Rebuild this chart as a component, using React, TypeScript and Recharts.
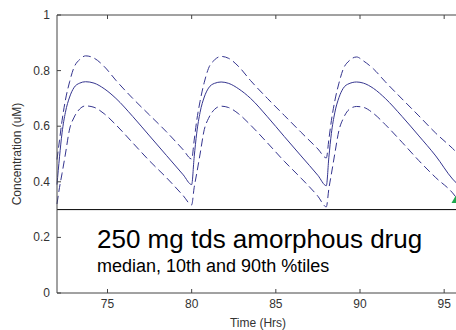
import React from "react";
import {
  ComposedChart,
  Line,
  XAxis,
  YAxis,
  ReferenceLine,
  ReferenceDot,
} from "recharts";

// time after start (hrs), dosing every 8 h (tds)
const hours = [
  72, 72.15, 72.3, 72.5, 72.75, 73, 73.35, 73.7, 74.2, 74.8, 75.5, 76.5, 77.5, 78.5, 79.5,
  80, 80.15, 80.3, 80.5, 80.75, 81, 81.35, 81.75, 82.2, 82.8, 83.5, 84.5, 85.5, 86.5, 87.5,
  88, 88.15, 88.3, 88.5, 88.75, 89, 89.35, 89.8, 90.2, 90.8, 91.5, 92.5, 93.5, 94.5, 95.5,
  96,
];

const median = [
  0.39, 0.49, 0.576, 0.65, 0.705, 0.738, 0.755, 0.76, 0.755, 0.735, 0.7, 0.635, 0.565, 0.495, 0.425,
  0.39, 0.49, 0.575, 0.65, 0.705, 0.737, 0.754, 0.759, 0.754, 0.734, 0.7, 0.634, 0.563, 0.493, 0.423,
  0.386, 0.488, 0.574, 0.648, 0.703, 0.736, 0.753, 0.759, 0.755, 0.736, 0.7, 0.635, 0.565, 0.493, 0.41,
  0.38,
];

const p90 = [
  0.48, 0.55, 0.62, 0.694, 0.76, 0.81, 0.84, 0.853, 0.845, 0.815, 0.765, 0.7, 0.64, 0.58, 0.515,
  0.482, 0.55, 0.62, 0.69, 0.758, 0.808, 0.838, 0.851, 0.844, 0.814, 0.764, 0.7, 0.639, 0.578, 0.518,
  0.486, 0.552, 0.62, 0.69, 0.755, 0.805, 0.835, 0.849, 0.835, 0.806, 0.76, 0.698, 0.637, 0.575, 0.52,
  0.49,
];

const p10 = [
  0.32, 0.38, 0.43, 0.5, 0.59, 0.63, 0.662, 0.673, 0.668, 0.645, 0.605, 0.54, 0.475, 0.415, 0.35,
  0.317, 0.38, 0.43, 0.5, 0.588, 0.628, 0.66, 0.672, 0.667, 0.644, 0.604, 0.54, 0.474, 0.413, 0.348,
  0.31, 0.375, 0.428, 0.5, 0.585, 0.627, 0.66, 0.671, 0.668, 0.646, 0.606, 0.542, 0.476, 0.415, 0.36,
  0.32,
];

const xTicks = [75, 80, 85, 90, 95];
const yTicks = [0, 0.2, 0.4, 0.6, 0.8, 1];
const threshold = 0.3;
const markerT = 95.85;
const markerV = 0.338;

const title = "250 mg tds amorphous drug";
const subtitle = "median, 10th and 90th %tiles";

const rows = hours.map((t, i) => ({
  t,
  p10: p10[i],
  median: median[i],
  p90: p90[i],
}));

const FONT = '"Liberation Sans", Arial, sans-serif';
const AXIS = "#444";
const LINE = "#35358f";

function XTick(props: any) {
  const { x, y, payload } = props;
  return (
    <g>
      <line x1={x} x2={x} y1={y} y2={y - 4} stroke={AXIS} />
      <text x={x} y={y + 15} textAnchor="middle" fontSize={12} fill="#333" fontFamily={FONT}>
        {payload.value}
      </text>
    </g>
  );
}

// inward tick marks on the top frame, no labels
function TopTick(props: any) {
  const { x, y } = props;
  return <line x1={x} x2={x} y1={y} y2={y + 4} stroke={AXIS} />;
}

function YTick(props: any) {
  const { x, y, payload } = props;
  return (
    <g>
      <line x1={x} x2={x + 4} y1={y} y2={y} stroke={AXIS} />
      <text x={x - 7} y={y + 4} textAnchor="end" fontSize={12} fill="#333" fontFamily={FONT}>
        {payload.value}
      </text>
    </g>
  );
}

function Marker(props: any) {
  const { cx, cy } = props;
  return (
    <polygon
      points={`${cx},${cy - 8} ${cx - 7},${cy + 4} ${cx + 7},${cy + 4}`}
      fill="#1fa84f"
    />
  );
}

export default function App() {
  return (
    <div
      style={{
        position: "absolute",
        left: 0,
        top: 0,
        width: 456,
        height: 330,
        overflow: "hidden",
        background: "#fff",
      }}
    >
      <ComposedChart
        width={461}
        height={330}
        data={rows}
        margin={{ top: 0, right: 0, bottom: 0, left: 0 }}
      >
        <XAxis
          dataKey="t"
          type="number"
          domain={[72, 96]}
          ticks={xTicks}
          height={37}
          tickSize={0}
          tickMargin={0}
          tickLine={false}
          tick={<XTick />}
          axisLine={{ stroke: AXIS }}
        />
        <XAxis
          xAxisId="top"
          dataKey="t"
          type="number"
          orientation="top"
          domain={[72, 96]}
          ticks={xTicks}
          height={15}
          tickSize={0}
          tickMargin={0}
          tickLine={false}
          tick={<TopTick />}
          axisLine={{ stroke: AXIS }}
        />
        <YAxis
          type="number"
          domain={[0, 1]}
          ticks={yTicks}
          width={57}
          tickSize={0}
          tickMargin={0}
          tickLine={false}
          tick={<YTick />}
          axisLine={{ stroke: AXIS }}
        />
        <ReferenceLine y={threshold} stroke="#000" strokeWidth={1} />
        <Line
          dataKey="p90"
          type="monotone"
          stroke={LINE}
          strokeWidth={1}
          strokeDasharray="8 4"
          dot={false}
          isAnimationActive={false}
        />
        <Line
          dataKey="median"
          type="monotone"
          stroke={LINE}
          strokeWidth={1}
          dot={false}
          isAnimationActive={false}
        />
        <Line
          dataKey="p10"
          type="monotone"
          stroke={LINE}
          strokeWidth={1}
          strokeDasharray="8 4"
          dot={false}
          isAnimationActive={false}
        />
        <ReferenceDot x={markerT} y={markerV} shape={<Marker />} />
      </ComposedChart>
      <svg
        width={456}
        height={330}
        style={{ position: "absolute", left: 0, top: 0, pointerEvents: "none" }}
      >
        <text x={97} y={248} fontSize={26} fill="#000" fontFamily={FONT}>
          {title}
        </text>
        <text x={97} y={272} fontSize={18} fill="#000" fontFamily={FONT}>
          {subtitle}
        </text>
        <text x={258} y={327} textAnchor="middle" fontSize={12} fill="#333" fontFamily={FONT}>
          Time (Hrs)
        </text>
        <text
          transform="translate(21,154) rotate(-90)"
          textAnchor="middle"
          fontSize={12}
          fill="#333"
          fontFamily={FONT}
        >
          Concentration (uM)
        </text>
      </svg>
    </div>
  );
}
